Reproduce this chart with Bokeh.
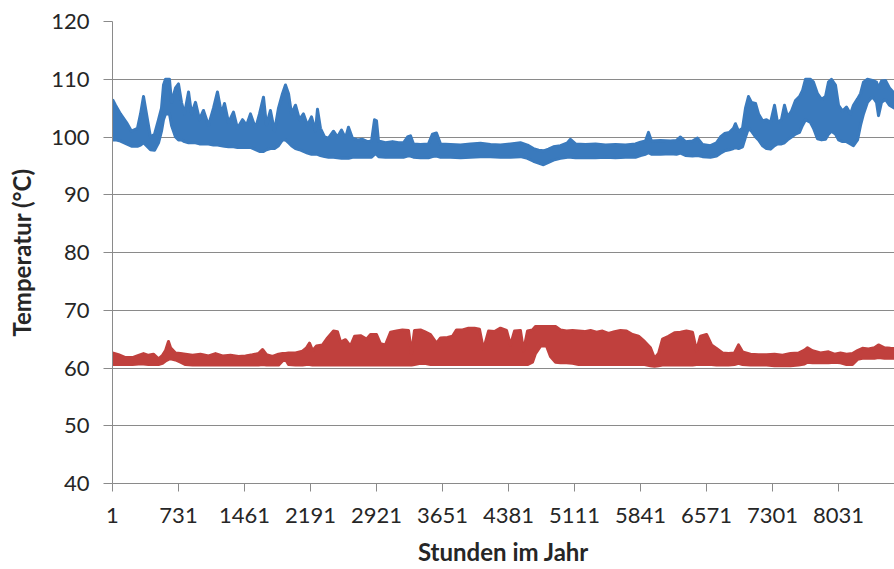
from bokeh.plotting import figure
from bokeh.models import Range1d, FixedTicker
from bokeh.embed import file_html
from bokeh.resources import INLINE

# ---- data ----
x_ticks = [1, 731, 1461, 2191, 2921, 3651, 4381, 5111, 5841, 6571, 7301, 8031, 8761]
y_ticks = [40, 50, 60, 70, 80, 90, 100, 110, 120]

# upper series (blue): hour of year, lower and upper envelope of hourly values
blue_hours = [1, 34, 89, 156, 211, 277, 311, 344, 377, 421,
              466, 510, 543, 565, 587, 631, 654, 698, 731, 764,
              797, 842, 875, 919, 963, 1007, 1063, 1118, 1162, 1207,
              1240, 1284, 1339, 1383, 1439, 1483, 1527, 1583, 1627, 1671,
              1704, 1748, 1793, 1837, 1881, 1914, 1948, 1981, 2025, 2069,
              2113, 2158, 2202, 2246, 2268, 2301, 2346, 2390, 2445, 2489,
              2534, 2578, 2611, 2655, 2711, 2766, 2821, 2866, 2899, 2921,
              2943, 3020, 3098, 3164, 3219, 3264, 3297, 3330, 3407, 3496,
              3540, 3584, 3629, 3739, 3850, 3960, 4071, 4182, 4292, 4403,
              4513, 4591, 4657, 4713, 4768, 4823, 4878, 4956, 5033, 5066,
              5122, 5232, 5343, 5454, 5564, 5675, 5785, 5841, 5896, 5929,
              5962, 6062, 6172, 6239, 6283, 6338, 6416, 6471, 6526, 6615,
              6681, 6725, 6770, 6825, 6869, 6891, 6925, 6969, 7002, 7035,
              7068, 7113, 7146, 7190, 7234, 7279, 7323, 7356, 7400, 7433,
              7467, 7511, 7555, 7599, 7632, 7666, 7721, 7754, 7798, 7843,
              7887, 7920, 7953, 7997, 8031, 8075, 8119, 8163, 8196, 8241,
              8274, 8307, 8351, 8407, 8451, 8473, 8506, 8550, 8594, 8650,
              8716, 8760]
blue_low = [99.5, 99.5, 99.3, 98.8, 98.4, 98.4, 98.6, 99.0, 98.5, 97.8,
            97.7, 99.0, 101.0, 103.0, 104.0, 104.0, 102.0, 100.0, 99.5, 99.5,
            99.2, 99.0, 99.0, 99.0, 98.8, 98.8, 98.8, 98.6, 98.6, 98.5,
            98.4, 98.3, 98.3, 98.2, 98.2, 98.2, 98.2, 97.8, 97.5, 97.5,
            97.8, 98.0, 98.0, 98.5, 99.5, 99.5, 99.0, 98.5, 98.0, 97.8,
            97.5, 97.2, 97.0, 97.0, 97.0, 96.8, 96.6, 96.5, 96.5, 96.4,
            96.3, 96.3, 96.3, 96.5, 96.5, 96.5, 96.5, 96.5, 97.0, 97.0,
            96.6, 96.5, 96.5, 96.5, 96.5, 96.7, 96.7, 96.5, 96.4, 96.4,
            96.6, 96.7, 96.5, 96.5, 96.4, 96.5, 96.6, 96.6, 96.5, 96.5,
            96.6, 96.3, 95.8, 95.5, 95.2, 95.6, 96.0, 96.3, 96.5, 96.5,
            96.4, 96.4, 96.4, 96.5, 96.4, 96.5, 96.5, 96.8, 97.0, 97.3,
            97.0, 97.0, 97.1, 97.0, 97.2, 96.8, 96.7, 96.8, 96.6, 96.5,
            96.7, 97.2, 97.6, 97.8, 98.0, 98.2, 98.0, 98.3, 100.0, 101.5,
            101.0, 100.0, 99.5, 98.5, 98.0, 97.9, 98.5, 98.8, 98.8, 99.0,
            99.5, 100.0, 100.5, 100.8, 102.0, 103.0, 102.5, 101.5, 99.7, 99.5,
            99.6, 100.5, 101.0, 100.5, 99.5, 99.2, 99.2, 98.8, 98.5, 99.5,
            102.0, 104.0, 106.0, 107.0, 106.0, 103.7, 106.0, 106.5, 105.5, 105.0,
            105.0, 105.0]
blue_high = [106.5, 105.5, 104.0, 102.5, 101.0, 101.5, 104.0, 107.0, 104.0, 100.0,
             100.5, 103.0, 105.0, 109.0, 110.0, 110.0, 106.0, 108.5, 109.2, 106.0,
             104.0, 107.8, 104.0, 106.0, 103.0, 104.6, 102.0, 105.0, 107.8, 104.0,
             105.8, 102.5, 104.3, 101.5, 103.0, 102.0, 104.0, 101.5, 104.0, 106.9,
             102.0, 104.6, 101.0, 105.0, 107.5, 109.0, 107.5, 104.0, 105.5, 103.0,
             104.0, 102.0, 103.5, 101.0, 104.8, 101.5, 100.0, 99.8, 101.0, 100.0,
             101.2, 99.8, 101.7, 99.8, 99.5, 99.6, 99.2, 99.3, 103.0, 102.8,
             99.3, 99.0, 99.2, 99.0, 99.0, 100.0, 100.2, 98.8, 98.7, 98.8,
             100.5, 100.7, 98.8, 98.7, 98.6, 98.8, 98.9, 98.7, 98.6, 98.8,
             99.0, 98.6, 98.0, 97.7, 97.6, 97.9, 98.3, 98.5, 99.0, 99.6,
             98.8, 98.7, 98.8, 98.6, 98.7, 98.6, 98.8, 99.1, 99.3, 100.8,
             99.3, 99.4, 99.3, 99.4, 100.0, 99.2, 99.3, 99.8, 98.7, 98.5,
             99.0, 100.0, 100.6, 100.8, 101.5, 102.3, 101.0, 101.5, 105.0, 107.0,
             106.0, 105.8, 104.0, 102.8, 103.0, 102.5, 105.5, 102.5, 103.0, 105.5,
             103.5, 104.5, 106.3, 107.0, 108.0, 110.0, 110.0, 109.5, 107.5, 106.5,
             107.0, 109.5, 110.0, 109.0, 105.5, 104.5, 105.2, 104.0, 105.5, 106.6,
             107.5, 109.5, 110.0, 109.8, 109.5, 108.5, 109.7, 109.8, 108.5, 107.5,
             108.0, 108.0]

# lower series (red)
red_hours = [1, 67, 145, 222, 289, 344, 399, 454, 510, 554,
             587, 620, 643, 698, 753, 808, 886, 974, 1063, 1140,
             1218, 1306, 1395, 1472, 1549, 1616, 1660, 1704, 1771, 1837,
             1881, 1914, 1948, 2025, 2102, 2147, 2180, 2213, 2257, 2324,
             2379, 2445, 2489, 2523, 2578, 2633, 2678, 2744, 2810, 2855,
             2921, 2965, 3020, 3076, 3142, 3208, 3275, 3308, 3341, 3407,
             3452, 3518, 3584, 3629, 3706, 3761, 3806, 3872, 3938, 4005,
             4060, 4104, 4160, 4226, 4292, 4359, 4403, 4447, 4513, 4547,
             4591, 4646, 4679, 4735, 4801, 4845, 4901, 4956, 5022, 5089,
             5155, 5221, 5288, 5354, 5420, 5487, 5553, 5619, 5686, 5752,
             5819, 5885, 5951, 5996, 6040, 6084, 6150, 6217, 6283, 6349,
             6416, 6460, 6504, 6571, 6626, 6681, 6748, 6814, 6880, 6925,
             6969, 7057, 7146, 7234, 7323, 7411, 7500, 7588, 7654, 7688,
             7743, 7831, 7920, 7986, 8053, 8119, 8185, 8241, 8296, 8362,
             8429, 8473, 8539, 8605, 8716, 8760]
red_low = [60.6, 60.6, 60.6, 60.6, 60.7, 60.7, 60.6, 60.6, 60.6, 60.8,
           61.2, 61.5, 61.6, 61.4, 61.0, 60.6, 60.5, 60.5, 60.5, 60.5,
           60.5, 60.5, 60.5, 60.5, 60.5, 60.5, 60.6, 60.5, 60.5, 60.5,
           61.2, 61.5, 60.6, 60.5, 60.5, 60.6, 60.6, 60.5, 60.5, 60.5,
           60.5, 60.5, 60.5, 60.5, 60.5, 60.5, 60.5, 60.5, 60.5, 60.5,
           60.5, 60.5, 60.5, 60.5, 60.5, 60.5, 60.5, 60.5, 60.6, 60.8,
           60.8, 60.6, 60.6, 60.6, 60.6, 60.6, 60.6, 60.6, 60.6, 60.6,
           60.6, 60.6, 60.6, 60.6, 60.6, 60.6, 60.6, 60.6, 60.6, 60.6,
           60.6, 61.0, 62.5, 63.8, 63.8, 62.0, 61.0, 60.9, 60.9, 60.8,
           60.6, 60.6, 60.6, 60.6, 60.6, 60.6, 60.6, 60.6, 60.6, 60.6,
           60.6, 60.6, 60.4, 60.3, 60.4, 60.5, 60.5, 60.5, 60.5, 60.5,
           60.5, 60.6, 60.6, 60.6, 60.6, 60.5, 60.5, 60.5, 60.6, 60.8,
           60.6, 60.5, 60.5, 60.5, 60.4, 60.4, 60.4, 60.5, 60.7, 61.0,
           60.9, 60.9, 60.9, 61.0, 60.9, 60.6, 60.6, 61.5, 61.7, 61.7,
           61.7, 61.8, 61.7, 61.7, 61.7, 61.7]
red_high = [62.6, 62.3, 61.8, 61.8, 62.2, 62.5, 62.2, 62.4, 61.6, 62.2,
            63.0, 64.6, 63.5, 62.6, 62.5, 62.4, 62.2, 62.4, 62.1, 62.5,
            62.1, 62.2, 62.0, 62.1, 62.3, 62.5, 63.2, 62.3, 62.0, 62.4,
            62.5, 62.5, 62.6, 62.6, 62.9, 63.5, 64.3, 63.0, 63.8, 64.0,
            65.2, 66.4, 66.3, 64.5, 64.9, 63.8, 65.5, 65.6, 65.0, 65.8,
            65.8, 64.2, 64.0, 66.2, 66.4, 66.6, 66.5, 62.5, 66.5, 66.6,
            66.3, 65.8, 64.3, 65.2, 65.3, 65.5, 66.6, 66.6, 66.9, 66.9,
            66.7, 63.2, 66.4, 66.3, 66.9, 66.5, 64.0, 66.4, 66.5, 63.0,
            66.4, 66.6, 67.2, 67.2, 67.2, 67.2, 67.2, 66.6, 66.4, 66.5,
            66.4, 66.3, 66.5, 66.2, 66.4, 66.0, 66.3, 66.5, 66.4, 65.8,
            65.5, 64.6, 63.5, 61.7, 62.5, 65.0, 65.5, 66.1, 66.2, 66.4,
            66.2, 63.0, 65.5, 65.8, 64.0, 63.4, 62.6, 62.5, 62.6, 64.0,
            62.8, 62.4, 62.3, 62.3, 62.4, 62.2, 62.5, 62.6, 63.1, 63.5,
            63.0, 62.6, 62.8, 62.4, 62.6, 62.4, 62.5, 63.0, 63.4, 63.3,
            63.5, 64.0, 63.5, 63.4, 63.3, 63.3]

BLUE = "#3a7abd"
RED = "#c0403d"
GRID = "#8a8a8a"
FONT = "Lato"

p = figure(width=894, height=569, output_backend="svg", toolbar_location=None,
           x_range=Range1d(1, 8650), y_range=Range1d(40, 120),
           min_border_left=112, min_border_right=0, min_border_top=21,
           min_border_bottom=86)
p.outline_line_color = None
p.xgrid.visible = False
p.ygrid.ticker = FixedTicker(ticks=y_ticks)
p.ygrid.grid_line_color = GRID
p.ygrid.grid_line_width = 1

for ax in (p.xaxis[0], p.yaxis[0]):
    ax.axis_line_color = GRID
    ax.major_tick_line_color = GRID
    ax.minor_tick_line_color = None
    ax.major_tick_in = 0
    ax.major_tick_out = 8
    ax.major_label_text_font = FONT
    ax.major_label_text_font_size = "22px"
    ax.major_label_text_color = "#262626"
    ax.axis_label_text_font = FONT
    ax.axis_label_text_font_style = "bold"
    ax.axis_label_text_font_size = "24px"
    ax.axis_label_text_color = "#262626"

p.xaxis.ticker = FixedTicker(ticks=x_ticks)
p.yaxis.ticker = FixedTicker(ticks=y_ticks)
p.xaxis.major_label_standoff = 16
p.yaxis.major_label_standoff = 14
p.yaxis.major_tick_out = 9
p.xaxis.axis_label = "Stunden im Jahr"
p.yaxis.axis_label = "Temperatur (°C)"
p.xaxis.axis_label_standoff = 11
p.yaxis.axis_label_standoff = 12

for hrs, lo, hi, col in ((blue_hours, blue_low, blue_high, BLUE),
                         (red_hours, red_low, red_high, RED)):
    p.varea(x=hrs, y1=lo, y2=hi, fill_color=col)
    p.line(hrs, lo, line_color=col, line_width=3, line_join="round")
    p.line(hrs, hi, line_color=col, line_width=3, line_join="round")

open("out.html", "w").write(file_html(p, INLINE))
